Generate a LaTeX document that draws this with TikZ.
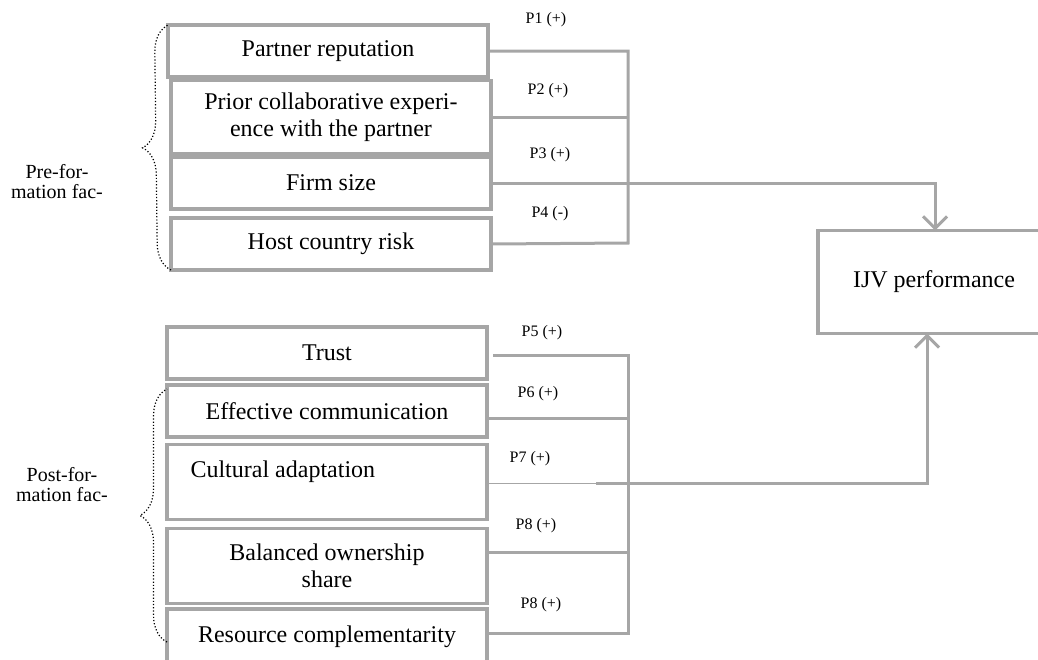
\documentclass[tikz,border=0pt]{standalone}
\usepackage{fontspec}
\setmainfont{Liberation Serif}
\usetikzlibrary{arrows.meta,decorations.pathreplacing}
\definecolor{LineGray}{RGB}{166,166,166}

\begin{document}
\begin{tikzpicture}[
  x=1pt, y=-1pt,
  FactorBox/.style={draw=LineGray, line width=3.2pt, minimum width=320pt,
                minimum height=52pt, outer sep=0pt, align=center,
                font=\fontsize{24}{27}\selectfont},
  PLabel/.style={font=\fontsize{16}{18}\selectfont},
  SideLabel/.style={align=center, font=\fontsize{20}{20}\selectfont},
  Conn/.style={draw=LineGray, line width=3pt},
  Tip/.style={-{Straight Barb[length=12pt, width=24pt]}},
  Brace/.style={decorate, decoration={brace, amplitude=27pt},
                dotted, line width=1.2pt},
  ]
\useasboundingbox (0,0) rectangle (1038,659);

% pre-formation factors
\node [FactorBox] (rep) at (328,51) {Partner reputation};
\node [FactorBox, minimum height=73pt] (prior) at (331,117)
      {Prior collaborative experi-\\ence with the partner};
\node [FactorBox] (firm) at (331,183) {Firm size};
\node [FactorBox] (host) at (331,244) {Host country risk};

% post-formation factors
\node [FactorBox] (trust) at (327,353) {Trust};
\node [FactorBox] (eff) at (327,411) {Effective communication};
\node [FactorBox, minimum height=75pt,
       label={[anchor=west, xshift=20pt, yshift=10pt,
               font=\fontsize{24}{27}\selectfont]west:Cultural adaptation}]
      (cult) at (327,482) {};
\node [FactorBox, minimum height=75pt] (bal) at (327,566)
      {Balanced ownership\\share};
\node [FactorBox, minimum height=56pt] (res) at (327,637)
      {Resource complementarity};

\node [FactorBox, minimum width=232pt, minimum height=103pt] (ijv)
      at (934,282) {IJV performance};

\node [SideLabel] (pre) at (57,182) {Pre-for-\\mation fac-};
\node [SideLabel] (post) at (62,485) {Post-for-\\mation fac-};

\draw [Brace] (host.south west) -- (rep.north west);
\draw [Brace] ([yshift=-5pt]res.west) -- ([yshift=-4pt]eff.north west);

% top bus
\coordinate (TopBus) at (628,52);
\coordinate (TopBusEnd) at (628,243);
\draw [Conn] (rep.east) -| (TopBusEnd) -- (host.east);
\draw [Conn] (prior.east) -- (prior.east -| TopBus);
\draw [Conn, Tip] (firm.east) -| ([xshift=1pt]ijv.north);

% bottom bus
\coordinate (BotBus) at (628,355);
\coordinate (BotBusEnd) at (628,633);
\draw [Conn] ([shift={(6pt,-2pt)}]trust.east) -| (BotBusEnd)
             -- ([yshift=4pt]res.east);
\draw [Conn] ([yshift=-7pt]eff.east) -- ([yshift=-7pt]eff.east -| BotBus);
\draw [Conn] ([yshift=14pt]bal.east) -- ([yshift=14pt]bal.east -| BotBus);
\coordinate (CultBreak) at (596,483);
\draw [LineGray, line width=1pt] ([yshift=-1pt]cult.east) -- (CultBreak);
\draw [Conn, Tip] (CultBreak) -| ([xshift=-7pt]ijv.south);

\node [PLabel] (p1) at (546,20) {P1 (+)};
\node [PLabel] (p2) at (548,91) {P2 (+)};
\node [PLabel] (p3) at (550,155) {P3 (+)};
\node [PLabel] (p4) at (550,214) {P4 (-)};
\node [PLabel] (p5) at (542,333) {P5 (+)};
\node [PLabel] (p6) at (538,394) {P6 (+)};
\node [PLabel] (p7) at (530,459) {P7 (+)};
\node [PLabel] (p8) at (536,526) {P8 (+)};
\node [PLabel] (p9) at (541,605) {P8 (+)};
\end{tikzpicture}
\end{document}
